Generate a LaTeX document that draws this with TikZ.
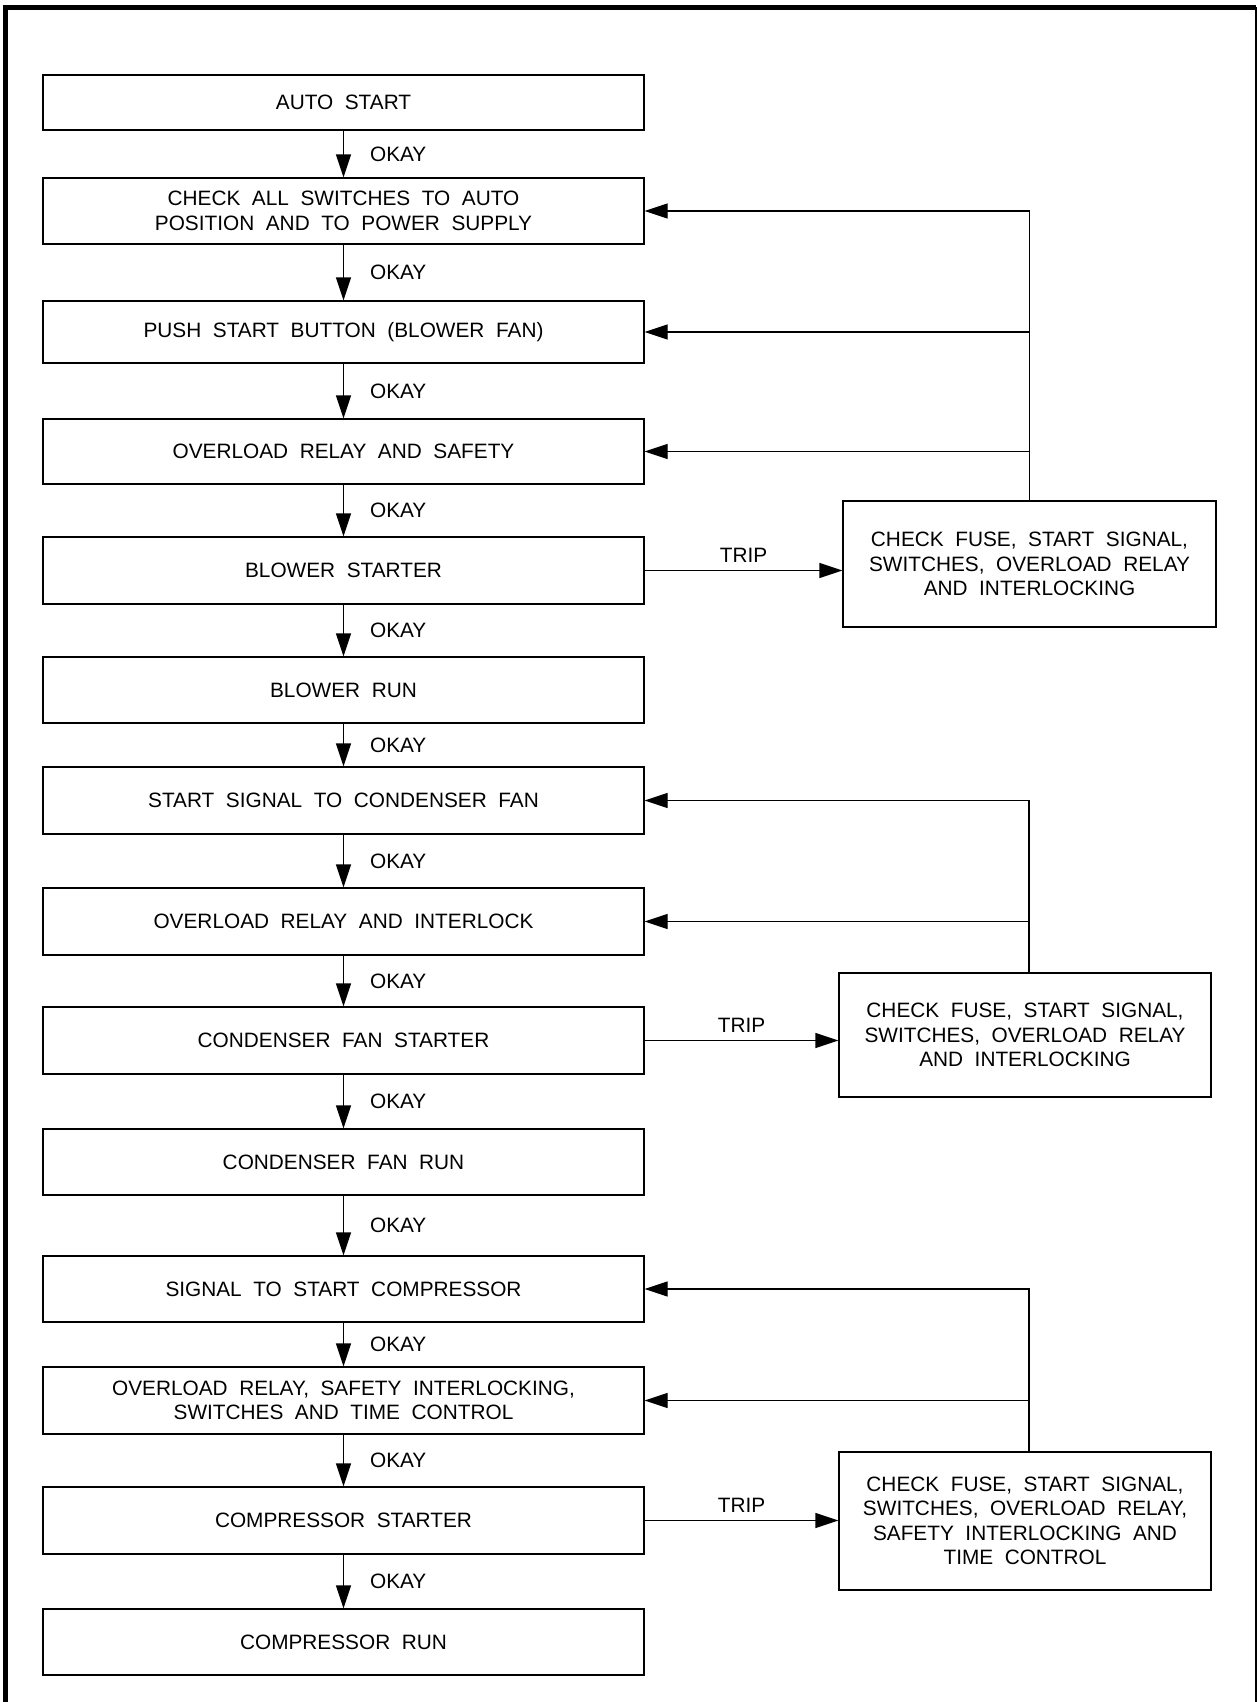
\documentclass[tikz,border=0pt]{standalone}
\usepackage{fontspec}
\setmainfont{Liberation Sans}[WordSpace=2]
\usetikzlibrary{arrows.meta}

\tikzset{
  box/.style={draw, line width=0.6pt, minimum width=300.5pt, minimum height=33pt,
    inner sep=0pt, align=center, font=\fontsize{10.4}{12.2}\selectfont},
  chkbox/.style={box, minimum width=186.5pt, minimum height=63pt},
  flow/.style={line width=0.6pt, -{Triangle[length=11.5pt,width=7.5pt]}},
  okay/.style={right, inner sep=0pt, xshift=13pt, font=\fontsize{10.4}{12.2}\selectfont},
  trip/.style={above=3.5pt, inner sep=0pt, font=\fontsize{10.4}{12.2}\selectfont}
}

\begin{document}
\begin{tikzpicture}[x=0.5pt, y=-0.5pt]
\useasboundingbox (0,0) rectangle (1257,1702);
% frame
\draw[line width=2.4pt] (5.5,1702) -- (5.5,7.5) -- (1256,7.5);
\draw[line width=0.7pt] (1256,7.5) -- (1256,1702);

% main chain
\node[box, minimum height=27.5pt] (b1) at (343.5,102.5) {AUTO START};
\node[box] (b2) at (343.5,211) {CHECK ALL SWITCHES TO AUTO\\POSITION AND TO POWER SUPPLY};
\node[box, minimum height=31pt] (b3) at (343.5,332) {PUSH START BUTTON (BLOWER FAN)};
\node[box, minimum height=32.5pt] (b4) at (343.5,451.5) {OVERLOAD RELAY AND SAFETY};
\node[box, minimum height=33.5pt] (b5) at (343.5,570.5) {BLOWER STARTER};
\node[box] (b6) at (343.5,690) {BLOWER RUN};
\node[box, minimum height=33.5pt] (b7) at (343.5,800.5) {START SIGNAL TO CONDENSER FAN};
\node[box, minimum height=33.5pt] (b8) at (343.5,921.5) {OVERLOAD RELAY AND INTERLOCK};
\node[box, minimum height=33.5pt] (b9) at (343.5,1040.5) {CONDENSER FAN STARTER};
\node[box] (b10) at (343.5,1162) {CONDENSER FAN RUN};
\node[box] (b11) at (343.5,1289) {SIGNAL TO START COMPRESSOR};
\node[box, minimum height=33.5pt] (b12) at (343.5,1400.5) {OVERLOAD RELAY, SAFETY INTERLOCKING,\\SWITCHES AND TIME CONTROL};
\node[box, minimum height=33.5pt] (b13) at (343.5,1520.5) {COMPRESSOR STARTER};
\node[box] (b14) at (343.5,1642) {COMPRESSOR RUN};

% trip checks
\node[chkbox] (chkA) at (1029.5,564) {CHECK FUSE, START SIGNAL,\\SWITCHES, OVERLOAD RELAY\\AND INTERLOCKING};
\node[chkbox, minimum width=186pt, minimum height=62pt] (chkB) at (1025,1035) {CHECK FUSE, START SIGNAL,\\SWITCHES, OVERLOAD RELAY\\AND INTERLOCKING};
\node[chkbox, minimum width=186pt, minimum height=69pt] (chkC) at (1025,1521) {CHECK FUSE, START SIGNAL,\\SWITCHES, OVERLOAD RELAY,\\SAFETY INTERLOCKING AND\\TIME CONTROL};
\coordinate (fbB) at ([xshift=2pt]chkB.north);
\coordinate (fbC) at ([xshift=2pt]chkC.north);

\foreach \a/\b in {1/2,2/3,3/4,4/5,5/6,6/7,7/8,8/9,9/10,10/11,11/12,12/13,13/14}
  {\draw[flow] (b\a) -- node[okay] {OKAY} (b\b);}

\draw[flow] (b5.east) -- node[trip] {TRIP} (b5.east -| chkA.west);
\draw[flow] (b9.east) -- node[trip] {TRIP} (b9.east -| chkB.west);
\draw[flow] (b13.east) -- node[trip] {TRIP} (b13.east -| chkC.west);

% feedback lines
\draw[flow] (chkA.north) |- (b2.east);
\foreach \n in {3,4} {\draw[flow] (b\n.east -| chkA.north) -- (b\n.east);}
\draw[flow] (fbB) |- (b7.east);
\draw[flow] (b8.east -| fbB) -- (b8.east);
\draw[flow] (fbC) |- (b11.east);
\draw[flow] (b12.east -| fbC) -- (b12.east);
\end{tikzpicture}
\end{document}
